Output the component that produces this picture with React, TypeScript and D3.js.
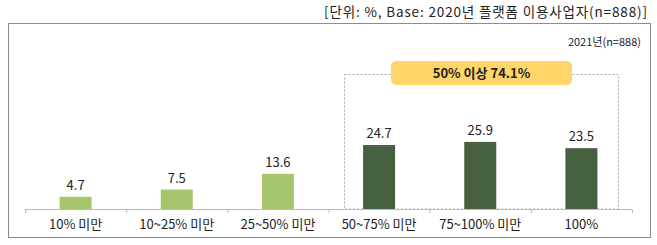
import React from "react";
import * as d3 from "d3";

const categories = ["10% 미만", "10~25% 미만", "25~50% 미만", "50~75% 미만", "75~100% 미만", "100%"];
const values = [4.7, 7.5, 13.6, 24.7, 25.9, 23.5];
const groups = ["low", "low", "low", "high", "high", "high"];
const headerText = "[단위: %, Base: 2020년 플랫폼 이용사업자(n=888)]";
const subText = "2021년(n=888)";
const highlightText = "50% 이상 74.1%";

const W = 657;
const H = 245;
const FONT = "'Noto Sans CJK KR', 'Noto Sans', sans-serif";

export default function App() {
  const x = d3.scaleBand<string>().domain(categories).range([25, 632]).paddingInner(0).paddingOuter(0);
  const y = d3.scaleLinear().domain([0, 30]).range([209, 209 - 77.7]);
  const bw = 32;
  const colors: Record<string, string> = { low: "#A6C66E", high: "#466140" };

  const boundaries = categories.map((c) => x(c) as number).concat([632]);
  const hiStart = x(categories[3]) as number;
  const dashLeft = Math.round(hiStart + x.bandwidth() / 2 - 35) + 0.5;
  const dashRight = Math.round((x(categories[5]) as number) + x.bandwidth() / 2 + 37) + 0.5;

  return (
    <div style={{ position: "absolute", left: 0, top: 0 }}>
      <svg width={W} height={H} style={{ display: "block", background: "#fff" }} fontFamily={FONT}>
        <text x={647} y={17} textAnchor="end" fontSize={13.5} fill="#222" textLength={323} lengthAdjust="spacing">{headerText}</text>
        <rect x={8.5} y={23.5} width={642} height={214} fill="none" stroke="#8c8c8c" strokeWidth={1} />
        <text x={641} y={46} textAnchor="end" fontSize={11} fill="#222">{subText}</text>

        <rect x={dashLeft} y={74.5} width={dashRight - dashLeft} height={209 - 74.5} fill="none" stroke="#aaa" strokeDasharray="2,2" strokeWidth={1} />
        <rect x={391} y={61} width={181} height={24} rx={5} fill="#FFD56A" />
        <text x={481.5} y={78} textAnchor="middle" fontSize={13} fontWeight="bold" fill="#222">{highlightText}</text>

        {categories.map((c, i) => {
          const cx = (x(c) as number) + x.bandwidth() / 2;
          return (
            <g key={c}>
              <rect x={cx - bw / 2} y={y(values[i])} width={bw} height={y(0) - y(values[i])} fill={colors[groups[i]]} />
              <text x={cx} y={y(values[i]) - 7} textAnchor="middle" fontSize={13} fill="#222">{values[i].toFixed(1)}</text>
              <text x={cx} y={229} textAnchor="middle" fontSize={13} fill="#222">{c}</text>
            </g>
          );
        })}
        <line x1={25} x2={632} y1={209.5} y2={209.5} stroke="#bbb" />
        {boundaries.map((b, i) => (
          <line key={i} x1={b + 0.5} x2={b + 0.5} y1={209.5} y2={213} stroke="#bbb" />
        ))}
      </svg>
    </div>
  );
}
